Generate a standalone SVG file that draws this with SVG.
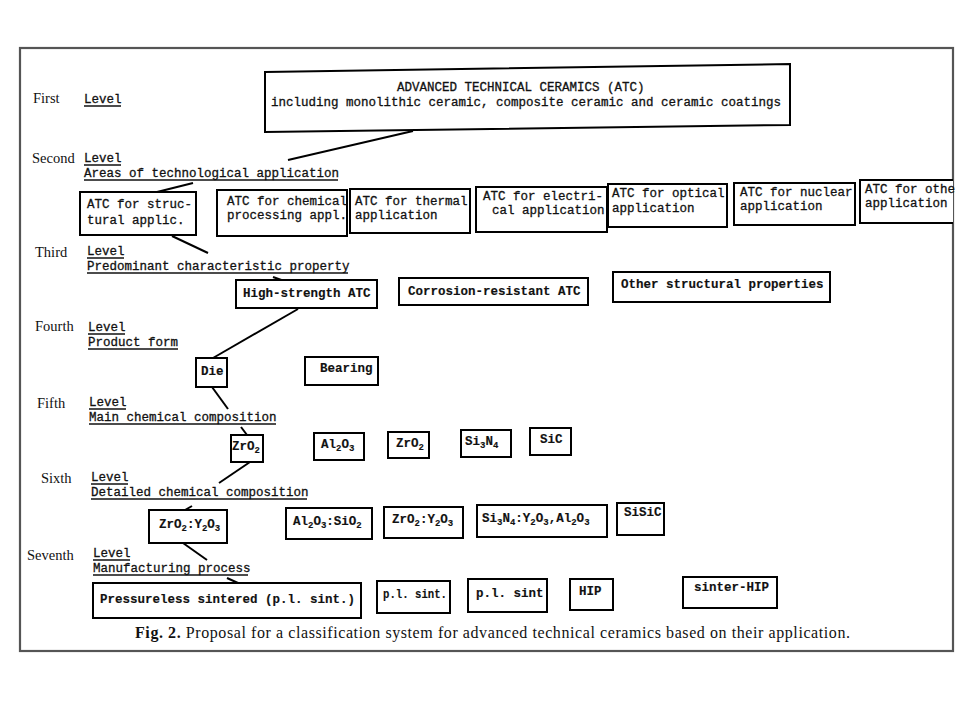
<svg xmlns="http://www.w3.org/2000/svg" width="960" height="720" viewBox="0 0 960 720">
<style>
.box{fill:#fff;stroke:#000;stroke-width:2}
.t{font-family:"Liberation Mono","DejaVu Sans Mono",monospace;font-size:12.5px;fill:#111;stroke:#111;stroke-width:0.3}
.b{font-weight:bold;stroke-width:0.15}
.lvl{font-family:"Liberation Serif","DejaVu Serif",serif;font-size:14.5px;fill:#111}
.ul{stroke:#111;stroke-width:1.4}
.sub{font-size:9px}
.conn line{stroke:#000;stroke-width:2}
.cap{font-family:"Liberation Serif","DejaVu Serif",serif;font-size:16px;fill:#111}
</style>
<rect x="0" y="0" width="960" height="720" fill="#fff"/>
<rect x="20" y="48" width="933" height="603" fill="#fff" stroke="#555" stroke-width="2.2"/>

<g id="levels">
  <text class="lvl" x="33" y="103">First</text>
  <text class="t" x="84" y="103">Level</text>
  <line class="ul" x1="84" y1="106" x2="121" y2="106"/>

  <text class="lvl" x="32" y="163">Second</text>
  <text class="t" x="84" y="162">Level</text>
  <line class="ul" x1="84" y1="165" x2="121" y2="165"/>
  <text class="t" x="84" y="176.5">Areas of technological application</text>
  <line class="ul" x1="84" y1="180" x2="338" y2="180"/>

  <text class="lvl" x="35" y="257">Third</text>
  <text class="t" x="87" y="255">Level</text>
  <line class="ul" x1="87" y1="258" x2="124" y2="258"/>
  <text class="t" x="87" y="269.5">Predominant characteristic property</text>
  <line class="ul" x1="87" y1="273" x2="348" y2="273"/>

  <text class="lvl" x="35" y="331">Fourth</text>
  <text class="t" x="88" y="331">Level</text>
  <line class="ul" x1="88" y1="334" x2="125" y2="334"/>
  <text class="t" x="88" y="345.5">Product form</text>
  <line class="ul" x1="88" y1="349" x2="178" y2="349"/>

  <text class="lvl" x="37" y="408">Fifth</text>
  <text class="t" x="89" y="406">Level</text>
  <line class="ul" x1="89" y1="409" x2="126" y2="409"/>
  <text class="t" x="89" y="420.5">Main chemical composition</text>
  <line class="ul" x1="89" y1="424" x2="276" y2="424"/>

  <text class="lvl" x="41" y="483">Sixth</text>
  <text class="t" x="91" y="481">Level</text>
  <line class="ul" x1="91" y1="484" x2="128" y2="484"/>
  <text class="t" x="91" y="495.5">Detailed chemical composition</text>
  <line class="ul" x1="91" y1="499" x2="307" y2="499"/>

  <text class="lvl" x="27" y="560">Seventh</text>
  <text class="t" x="93" y="557">Level</text>
  <line class="ul" x1="93" y1="560" x2="130" y2="560"/>
  <text class="t" x="93" y="571.5">Manufacturing process</text>
  <line class="ul" x1="93" y1="575" x2="248" y2="575"/>
</g>

<g id="conn" class="conn">
  <line x1="413" y1="131" x2="288" y2="160"/>
  <line x1="193" y1="183" x2="157" y2="192"/>
  <line x1="172" y1="236" x2="208" y2="253"/>
  <line x1="273" y1="277" x2="287" y2="282"/>
  <line x1="298" y1="309" x2="213" y2="358"/>
  <line x1="212" y1="387" x2="228" y2="409"/>
  <line x1="241" y1="427" x2="247" y2="435"/>
  <line x1="250" y1="462" x2="219" y2="483"/>
  <line x1="192" y1="506" x2="185" y2="510"/>
  <line x1="183" y1="543" x2="207" y2="560"/>
  <line x1="227" y1="578" x2="238" y2="583"/>
</g>

<g id="atc">
  <polygon class="box" points="265,72 790,64 790,125 265,132"/>
  <text class="t" x="397" y="91">ADVANCED TECHNICAL CERAMICS (ATC)</text>
  <text class="t" x="271" y="106">including monolithic ceramic, composite ceramic and ceramic coatings</text>
</g>

<g id="structural">
  <rect class="box" x="80" y="192" width="116" height="43"/>
  <text class="t" x="87" y="208">ATC for struc-</text>
  <text class="t" x="87" y="224">tural applic.</text>
</g>
<g id="chemical">
  <rect class="box" x="217" y="190" width="130" height="46"/>
  <text class="t" x="227" y="205">ATC for chemical</text>
  <text class="t" x="227" y="219">processing appl.</text>
</g>
<g id="thermal">
  <rect class="box" x="350" y="189" width="120" height="44"/>
  <text class="t" x="355" y="205">ATC for thermal</text>
  <text class="t" x="355" y="219">application</text>
</g>
<g id="electrical">
  <rect class="box" x="476" y="187" width="131" height="45"/>
  <text class="t" x="483" y="200">ATC for electri-</text>
  <text class="t" x="492" y="214">cal application</text>
</g>
<g id="optical">
  <rect class="box" x="608" y="184" width="119" height="43"/>
  <text class="t" x="612" y="197">ATC for optical</text>
  <text class="t" x="612" y="212">application</text>
</g>
<g id="nuclear">
  <rect class="box" x="734" y="183" width="121" height="42"/>
  <text class="t" x="740" y="196">ATC for nuclear</text>
  <text class="t" x="740" y="210">application</text>
</g>
<g id="other-app">
  <path class="box" d="M953,180 H860 V223 H953"/>
  <text class="t" x="865" y="193">ATC for othe</text>
  <text class="t" x="865" y="207">application</text>
</g>

<g id="high-strength">
  <rect class="box" x="236" y="280" width="141" height="28"/>
  <text class="t b" x="243" y="297">High-strength ATC</text>
</g>
<g id="corrosion">
  <rect class="box" x="399" y="278" width="189" height="27"/>
  <text class="t b" x="408" y="295">Corrosion-resistant ATC</text>
</g>
<g id="other-struct">
  <rect class="box" x="613" y="272" width="217" height="30"/>
  <text class="t b" x="621" y="288">Other structural properties</text>
</g>

<g id="die">
  <rect class="box" x="196" y="358" width="31" height="29"/>
  <text class="t b" x="201" y="375">Die</text>
</g>
<g id="bearing">
  <rect class="box" x="305" y="357" width="73" height="28"/>
  <text class="t b" x="320" y="372">Bearing</text>
</g>

<g id="zro2-a">
  <rect class="box" x="231" y="435" width="32" height="27"/>
  <text class="t b" x="232" y="450">ZrO<tspan class="sub" dy="3">2</tspan></text>
</g>
<g id="al2o3-a">
  <rect class="box" x="314" y="433" width="50" height="27"/>
  <text class="t b" x="321" y="448">Al<tspan class="sub" dy="3">2</tspan><tspan dy="-3">O</tspan><tspan class="sub" dy="3">3</tspan></text>
</g>
<g id="zro2-b">
  <rect class="box" x="388" y="432" width="41" height="26"/>
  <text class="t b" x="396" y="447">ZrO<tspan class="sub" dy="3">2</tspan></text>
</g>
<g id="si3n4">
  <rect class="box" x="461" y="430" width="50" height="27"/>
  <text class="t b" x="465" y="445">Si<tspan class="sub" dy="3">3</tspan><tspan dy="-3">N</tspan><tspan class="sub" dy="3">4</tspan></text>
</g>
<g id="sic">
  <rect class="box" x="530" y="428" width="41" height="27"/>
  <text class="t b" x="540" y="443">SiC</text>
</g>

<g id="zro2-y2o3-a">
  <rect class="box" x="149" y="510" width="78" height="33"/>
  <text class="t b" x="159" y="528">ZrO<tspan class="sub" dy="3">2</tspan><tspan dy="-3">:Y</tspan><tspan class="sub" dy="3">2</tspan><tspan dy="-3">O</tspan><tspan class="sub" dy="3">3</tspan></text>
</g>
<g id="al2o3-sio2">
  <rect class="box" x="286" y="508" width="86" height="31"/>
  <text class="t b" x="293" y="525">Al<tspan class="sub" dy="3">2</tspan><tspan dy="-3">O</tspan><tspan class="sub" dy="3">3</tspan><tspan dy="-3">:SiO</tspan><tspan class="sub" dy="3">2</tspan></text>
</g>
<g id="zro2-y2o3-b">
  <rect class="box" x="384" y="507" width="79" height="31"/>
  <text class="t b" x="392" y="523">ZrO<tspan class="sub" dy="3">2</tspan><tspan dy="-3">:Y</tspan><tspan class="sub" dy="3">2</tspan><tspan dy="-3">O</tspan><tspan class="sub" dy="3">3</tspan></text>
</g>
<g id="si3n4-y2o3-al2o3">
  <rect class="box" x="477" y="505" width="130" height="32"/>
  <text class="t b" x="482" y="522">Si<tspan class="sub" dy="3">3</tspan><tspan dy="-3">N</tspan><tspan class="sub" dy="3">4</tspan><tspan dy="-3">:Y</tspan><tspan class="sub" dy="3">2</tspan><tspan dy="-3">O</tspan><tspan class="sub" dy="3">3</tspan><tspan dy="-3">,Al</tspan><tspan class="sub" dy="3">2</tspan><tspan dy="-3">O</tspan><tspan class="sub" dy="3">3</tspan></text>
</g>
<g id="sisic">
  <rect class="box" x="617" y="503" width="47" height="32"/>
  <text class="t b" x="624" y="516">SiSiC</text>
</g>

<g id="pressureless">
  <rect class="box" x="93" y="583" width="268" height="35"/>
  <text class="t b" x="100" y="603">Pressureless sintered (p.l. sint.)</text>
</g>
<g id="pl-sint-a">
  <rect class="box" x="377" y="581" width="73" height="32"/>
  <text class="t b" x="383" y="598" textLength="64" lengthAdjust="spacingAndGlyphs">p.l. sint.</text>
</g>
<g id="pl-sint-b">
  <rect class="box" x="468" y="579" width="79" height="33"/>
  <text class="t b" x="476" y="597">p.l. sint</text>
</g>
<g id="hip">
  <rect class="box" x="570" y="579" width="43" height="31"/>
  <text class="t b" x="579" y="595">HIP</text>
</g>
<g id="sinter-hip">
  <rect class="box" x="683" y="577" width="94" height="31"/>
  <text class="t b" x="694" y="591">sinter-HIP</text>
</g>

<text class="cap" x="135" y="638" textLength="715" lengthAdjust="spacing"><tspan font-weight="bold">Fig. 2.</tspan> Proposal for a classification system for advanced technical ceramics based on their application.</text>
</svg>
